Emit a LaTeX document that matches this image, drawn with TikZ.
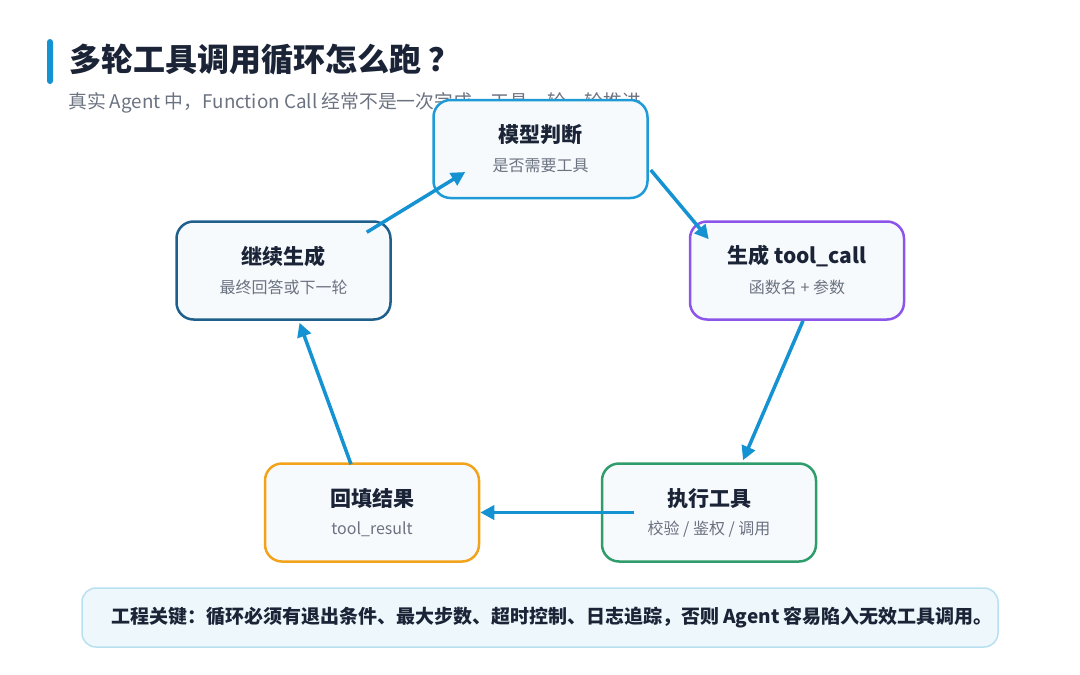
\documentclass[tikz,border=0pt]{standalone}
\usepackage{fontspec}
\setmainfont{Noto Sans CJK SC}
\usepackage{xcolor}
\usetikzlibrary{arrows.meta}

\definecolor{accent}{HTML}{1592D2}
\definecolor{ink}{HTML}{1B2437}
\definecolor{muted}{HTML}{6B7280}
\definecolor{boxfill}{HTML}{F7FAFD}
\definecolor{cjudge}{HTML}{1E9BD7}
\definecolor{cgen}{HTML}{8B55E9}
\definecolor{cexec}{HTML}{2F9C6C}
\definecolor{cfill}{HTML}{F2A31B}
\definecolor{ccont}{HTML}{1F5F8B}
\definecolor{notefill}{HTML}{EEF8FC}
\definecolor{noteline}{HTML}{B8E1F0}

\begin{document}
\begin{tikzpicture}[x=1pt, y=-1pt,
  stepbox/.style={draw, line width=2.5pt, fill=boxfill, rounded corners=17pt,
    minimum width=214pt, minimum height=98pt, inner sep=0pt},
  hd/.style={text=ink, font=\fontsize{21}{25}\selectfont\bfseries, inner sep=0pt},
  sub/.style={text=muted, font=\fontsize{16}{19}\selectfont, inner sep=0pt},
  flow/.style={accent, line width=3.5pt, -{Triangle[length=14pt,width=14pt]}}]
\useasboundingbox (0,0) rectangle (1080,675);

% Header
\fill[accent, rounded corners=3pt] (47,39) rectangle (53,84);
\node[anchor=west, text=ink, inner sep=0pt, font=\fontsize{32}{38}\selectfont\bfseries] (title) at (69,60) {多轮工具调用循环怎么跑\hspace{7pt}？};
\node[anchor=west, text=muted, inner sep=0pt, font=\fontsize{18.8}{22}\selectfont] (subtitle) at (68,103) {真实 Agent 中，Function Call 经常不是一次完成，工具一轮一轮推进};

% Boxes
\node[stepbox, draw=cjudge] (judge) at (540.5,149) {};
\node[hd] (judge-t) at ([yshift=14pt]judge.center) {模型判断};
\node[sub] (judge-s) at ([yshift=-17pt]judge.center) {是否需要工具};

\node[stepbox, draw=cgen] (gen) at (797,270.5) {};
\node[hd] (gen-t) at ([yshift=14pt]gen.center) {生成 tool\_call};
\node[sub] (gen-s) at ([yshift=-17pt]gen.center) {函数名 + 参数};

\node[stepbox, draw=cexec] (exec) at (709,512.5) {};
\node[hd] (exec-t) at ([yshift=14pt]exec.center) {执行工具};
\node[sub] (exec-s) at ([yshift=-17pt]exec.center) {校验 / 鉴权 / 调用};

\node[stepbox, draw=cfill] (fill) at (372,512.5) {};
\node[hd] (fill-t) at ([yshift=14pt]fill.center) {回填结果};
\node[sub] (fill-s) at ([yshift=-17pt]fill.center) {tool\_result};

\node[stepbox, draw=ccont] (cont) at (283.5,270.5) {};
\node[hd] (cont-t) at ([yshift=14pt]cont.center) {继续生成};
\node[sub] (cont-s) at ([yshift=-17pt]cont.center) {最终回答或下一轮};

% Loop arrows
\draw[flow] ([shift={(-25,12)}]cont.north east) -- ([shift={(33,23)}]judge.west);
\draw[flow] ([shift={(2,21)}]judge.east) -- ([shift={(20,19)}]gen.north west);
\draw[flow] ([shift={(6,0)}]gen.south) -- ([shift={(34,-2)}]exec.north);
\draw[flow] ([shift={(33,0)}]exec.west) -- (fill.east);
\draw[flow] ([shift={(-21,2)}]fill.north) -- ([shift={(16,2)}]cont.south);

% Note
\node[draw=noteline, fill=notefill, line width=1.5pt, rounded corners=14pt,
  minimum width=916pt, minimum height=59pt] (note) at (540,617.5) {};
\node[text=ink, inner sep=0pt, font=\fontsize{19}{23}\selectfont\bfseries] (note-t) at (552,617.5) {工程关键：循环必须有退出条件、最大步数、超时控制、日志追踪，否则 Agent 容易陷入无效工具调用。};
\end{tikzpicture}
\end{document}
